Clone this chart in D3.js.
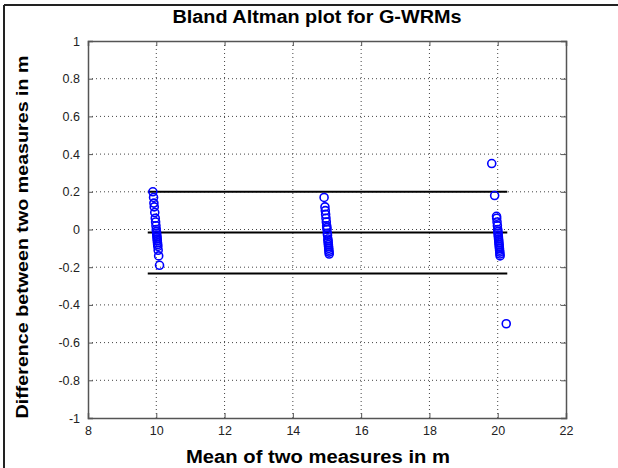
<!DOCTYPE html>
<html>
<head>
<meta charset="utf-8">
<script src="https://cdn.jsdelivr.net/npm/d3@7"></script>
<style>
  body { margin: 0; background: #fff; }
  svg { display: block; }
</style>
</head>
<body>
<div id="graph"></div>
<script>
// values
var xTicks = [8, 10, 12, 14, 16, 18, 20, 22];
var yTicks = [-1, -0.8, -0.6, -0.4, -0.2, 0, 0.2, 0.4, 0.6, 0.8, 1];

var meanG10 = [9.90, 9.92, 9.93, 9.94, 9.955, 9.97, 9.98, 9.99, 10.0, 10.005, 10.01, 10.015, 10.02, 10.025, 10.03, 10.035, 10.04, 10.045, 10.055, 10.07, 10.095];
var diffG10 = [0.20, 0.17, 0.14, 0.12, 0.09, 0.06, 0.04, 0.02, 0.0, -0.01, -0.02, -0.03, -0.04, -0.05, -0.06, -0.07, -0.08, -0.09, -0.11, -0.14, -0.19];

var meanG15 = [14.915, 14.94, 14.95, 14.96, 14.97, 14.98, 14.99, 14.995, 15.0, 15.01, 15.015, 15.025, 15.03, 15.035, 15.04, 15.045, 15.05, 15.055, 15.06, 15.065];
var diffG15 = [0.17, 0.12, 0.10, 0.08, 0.06, 0.04, 0.02, 0.01, 0.0, -0.02, -0.03, -0.05, -0.06, -0.07, -0.08, -0.09, -0.10, -0.11, -0.12, -0.13];

var meanG20 = [19.825, 19.91, 19.965, 19.97, 19.98, 19.99, 20.0, 20.005, 20.01, 20.015, 20.02, 20.025, 20.03, 20.035, 20.04, 20.045, 20.05, 20.055, 20.06, 20.065, 20.07, 20.25];
var diffG20 = [0.35, 0.18, 0.07, 0.06, 0.04, 0.02, 0.0, -0.01, -0.02, -0.03, -0.04, -0.05, -0.06, -0.07, -0.08, -0.09, -0.10, -0.11, -0.12, -0.13, -0.14, -0.50];

var upperLimit = 0.20;
var meanDiff = -0.016;
var lowerLimit = -0.233;
var limitStart = 9.75;
var limitEnd = 20.28;

var w = 618, h = 468;
var margin = {left: 88, right: 52, top: 41, bottom: 50};

var vis = d3.select("#graph").append("svg")
  .attr("width", w)
  .attr("height", h);

// outer figure frame (only top and left edges show)
vis.append("line").attr("x1", 4).attr("y1", 5).attr("x2", w).attr("y2", 5)
  .style("stroke", "#222").style("stroke-width", 2);
vis.append("line").attr("x1", 4).attr("y1", 5).attr("x2", 4).attr("y2", h)
  .style("stroke", "#222").style("stroke-width", 2);

var x = d3.scaleLinear().domain([8, 22]).range([margin.left, w - margin.right]);
var y = d3.scaleLinear().domain([-1, 1]).range([h - margin.bottom, margin.top]);

// dotted grid
vis.selectAll(".vgrid").data(xTicks.slice(1, -1)).enter().append("line")
  .attr("x1", function(d) { return x(d); })
  .attr("x2", function(d) { return x(d); })
  .attr("y1", y(-1)).attr("y2", y(1))
  .style("stroke", "#444").style("stroke-dasharray", "1,3");
vis.selectAll(".hgrid").data(yTicks.slice(1, -1)).enter().append("line")
  .attr("y1", function(d) { return y(d); })
  .attr("y2", function(d) { return y(d); })
  .attr("x1", x(8)).attr("x2", x(22))
  .style("stroke", "#444").style("stroke-dasharray", "1,3");

// limits of agreement
var limits = [upperLimit, meanDiff, lowerLimit];
vis.selectAll(".limit").data(limits).enter().append("line")
  .attr("x1", x(limitStart)).attr("x2", x(limitEnd))
  .attr("y1", function(d) { return y(d); })
  .attr("y2", function(d) { return y(d); })
  .style("stroke", "#000").style("stroke-width", 2);

// points
var pts = [];
[[meanG10, diffG10], [meanG15, diffG15], [meanG20, diffG20]].forEach(function(g) {
  g[0].forEach(function(m, i) { pts.push({x: m, y: g[1][i]}); });
});
vis.selectAll("circle.nodes").data(pts).enter().append("circle")
  .attr("class", "nodes")
  .attr("cx", function(d) { return x(d.x); })
  .attr("cy", function(d) { return y(d.y); })
  .attr("r", 4)
  .attr("fill", "none")
  .style("stroke", "#0000ff")
  .style("stroke-width", 1.6);

// axes
var tickFont = "Arial, 'Liberation Sans', sans-serif";
var fmtY = function(d) { return String(+d.toFixed(1)); };
var xAxis = vis.append("g").attr("transform", "translate(0," + y(-1) + ")")
  .call(d3.axisBottom(x).tickValues(xTicks).tickSize(-5).tickPadding(8).tickFormat(d3.format("d")));
var xAxisTop = vis.append("g").attr("transform", "translate(0," + y(1) + ")")
  .call(d3.axisTop(x).tickValues(xTicks).tickSize(-5).tickFormat(""));
var yAxis = vis.append("g").attr("transform", "translate(" + x(8) + ",0)")
  .call(d3.axisLeft(y).tickValues(yTicks).tickSize(-5).tickPadding(8).tickFormat(fmtY));
var yAxisRight = vis.append("g").attr("transform", "translate(" + x(22) + ",0)")
  .call(d3.axisRight(y).tickValues(yTicks).tickSize(-5).tickFormat(""));

[xAxis, xAxisTop, yAxis, yAxisRight].forEach(function(a) {
  a.select(".domain").style("stroke", "#555").style("stroke-width", 1.5);
  a.selectAll(".tick line").style("stroke", "#555");
  a.selectAll("text").style("font-family", tickFont).style("font-size", "12.5px").style("fill", "#222");
});

// titles
vis.append("text")
  .attr("x", 317).attr("y", 23)
  .attr("text-anchor", "middle")
  .attr("textLength", 289)
  .attr("lengthAdjust", "spacingAndGlyphs")
  .style("font-family", "Arial, 'Liberation Sans', sans-serif")
  .style("font-weight", "bold").style("font-size", "18px")
  .text("Bland Altman plot for G-WRMs");

vis.append("text")
  .attr("x", 318).attr("y", 463)
  .attr("text-anchor", "middle")
  .attr("textLength", 264)
  .attr("lengthAdjust", "spacingAndGlyphs")
  .style("font-family", "Arial, 'Liberation Sans', sans-serif")
  .style("font-weight", "bold").style("font-size", "18px")
  .text("Mean of two measures in m");

vis.append("text")
  .attr("transform", "translate(28,237) rotate(-90)")
  .attr("text-anchor", "middle")
  .attr("textLength", 363)
  .attr("lengthAdjust", "spacingAndGlyphs")
  .style("font-family", "Arial, 'Liberation Sans', sans-serif")
  .style("font-weight", "bold").style("font-size", "17px")
  .text("Difference between two measures in m");
</script>
</body>
</html>
